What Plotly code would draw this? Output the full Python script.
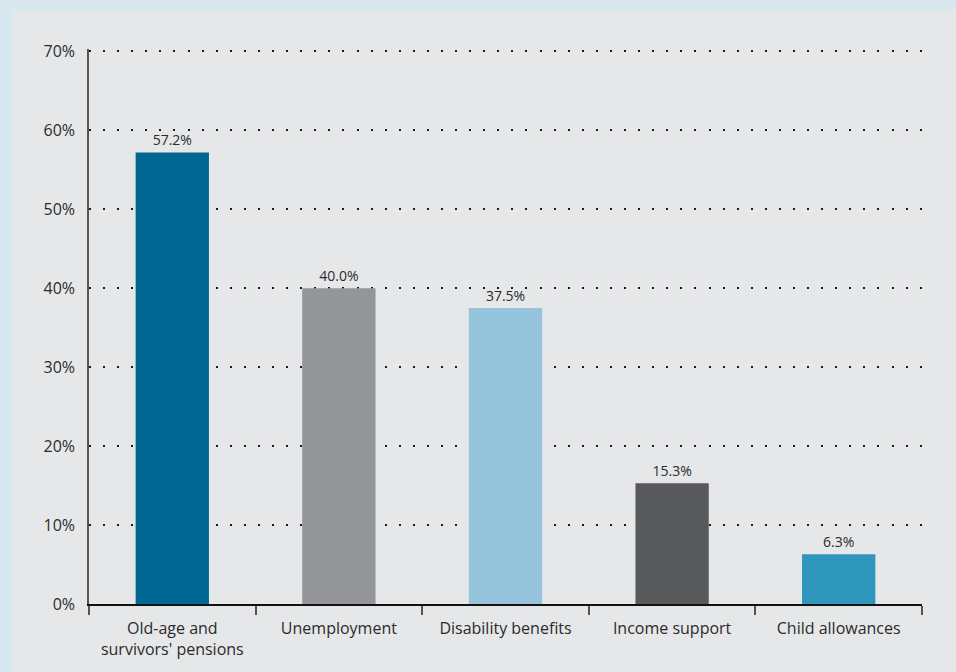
import plotly.graph_objects as go

# Share of expenditure by benefit type
categories = ["Old-age and<br>survivors' pensions", "Unemployment", "Disability benefits",
              "Income support", "Child allowances"]
values = [57.2, 40.0, 37.5, 15.3, 6.3]
bar_colors = ["#006892", "#939598", "#95c4dc", "#58595b", "#2e97bb"]
y_ticks = [0, 10, 20, 30, 40, 50, 60, 70]
y_tick_labels = [f"{v}%" for v in y_ticks]

FONT = "Open Sans, DejaVu Sans, sans-serif"
TEXT = "#2b2b2b"

W, H = 956, 672
Y_MAX = 70.3
px_per_unit = (604 - 51) / 70
ml, mr, mb = 89, 34, 68
ph = Y_MAX * px_per_unit
mt = H - mb - ph
pw = W - ml - mr

fig = go.Figure(go.Bar(
    x=categories,
    y=values,
    marker=dict(color=bar_colors, line=dict(width=0)),
    text=[f"{v:.1f}%" for v in values],
    textposition="outside",
    textfont=dict(family=FONT, size=14, color=TEXT),
    cliponaxis=False,
    width=0.44,
))

# grey panel framed by a light blue border
def px_x(p):
    return (p - ml) / pw

def px_y(p):
    return (H - mb - p) / ph

fig.add_shape(type="rect", xref="paper", yref="paper",
              x0=px_x(13), x1=px_x(W + 5), y0=px_y(H + 5), y1=px_y(10),
              fillcolor="#e6e7e9", line=dict(width=0), layer="below")

fig.update_layout(
    width=W, height=H,
    margin=dict(l=ml, r=mr, t=mt, b=mb, autoexpand=False),
    paper_bgcolor="#d8e8f0",
    plot_bgcolor="rgba(0,0,0,0)",
    showlegend=False,
    font=dict(family=FONT, size=16, color=TEXT),
    xaxis=dict(
        showline=True, linecolor="#111111", linewidth=1.5,
        ticks="outside", tickson="boundaries", ticklen=9, tickwidth=1.5, tickcolor="#555555",
        tickfont=dict(family=FONT, size=16, color=TEXT), ticklabelstandoff=9,
        showgrid=False, zeroline=False,
    ),
    yaxis=dict(
        range=[0, Y_MAX], tickvals=y_ticks, ticktext=y_tick_labels,
        showline=True, linecolor="#555555", linewidth=1.5,
        showgrid=True, gridcolor="#1a1a1a", gridwidth=2, griddash="2px,12.08px",
        zeroline=False, ticks="", ticklabelstandoff=9,
        tickfont=dict(family=FONT, size=16, color=TEXT),
    ),
)

fig.write_html("out.html")
